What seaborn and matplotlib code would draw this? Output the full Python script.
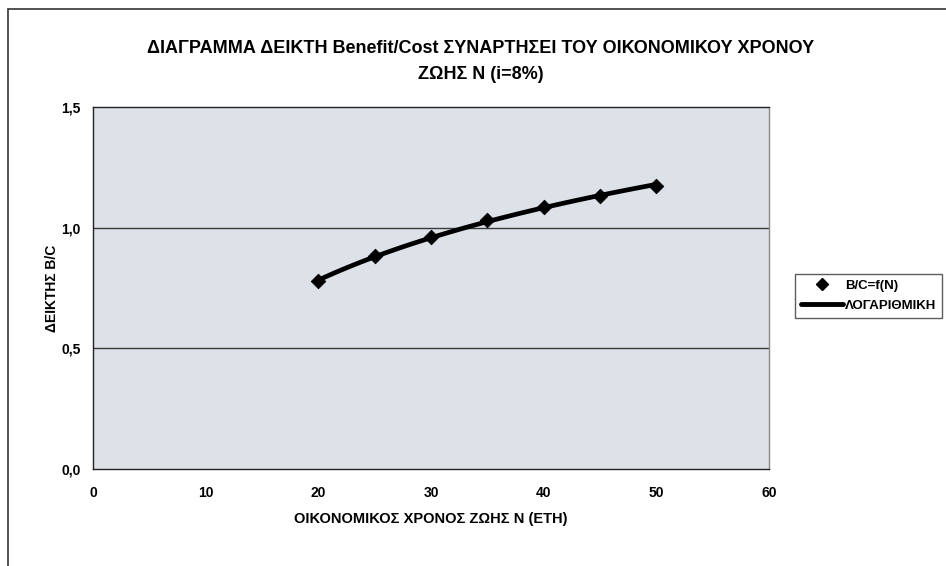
import matplotlib
matplotlib.use("Agg")
import matplotlib.pyplot as plt
import seaborn as sns
import pandas as pd
from matplotlib.lines import Line2D
from matplotlib.ticker import FuncFormatter

years = [20, 25, 30, 35, 40, 45, 50]
bc_ratio = [0.777, 0.881, 0.961, 1.030, 1.085, 1.132, 1.174]
x_ticks = [0, 10, 20, 30, 40, 50, 60]
y_ticks = [0.0, 0.5, 1.0, 1.5]

title = "ΔΙΑΓΡΑΜΜΑ ΔΕΙΚΤΗ Benefit/Cost ΣΥΝΑΡΤΗΣΕΙ ΤΟΥ ΟΙΚΟΝΟΜΙΚΟΥ ΧΡΟΝΟΥ\nΖΩΗΣ Ν (i=8%)"
xlabel = "ΟΙΚΟΝΟΜΙΚΟΣ ΧΡΟΝΟΣ ΖΩΗΣ Ν (ΕΤΗ)"
ylabel = "ΔΕΙΚΤΗΣ Β/C"
series_label = "B/C=f(N)"
trend_label = "ΛΟΓΑΡΙΘΜΙΚΗ"

df = pd.DataFrame({"N": years, "BC": bc_ratio})

sns.set_theme(style="white", rc={"text.color": "black", "axes.labelcolor": "black",
                                 "xtick.color": "black", "ytick.color": "black"})
plt.rcParams["font.family"] = ["Liberation Sans", "DejaVu Sans"]

fig = plt.figure(figsize=(9.46, 5.66), dpi=100)
ax = fig.add_axes([0.0983, 0.1714, 0.7146, 0.6396])
ax.set_facecolor("#dde2e9")

# logarithmic trendline
sns.regplot(data=df, x="N", y="BC", logx=True, ci=None, scatter=False, ax=ax,
            line_kws=dict(color="black", lw=3.4, zorder=3))
sns.scatterplot(data=df, x="N", y="BC", marker="D", s=55, color="black",
                edgecolor="black", ax=ax, zorder=4, legend=False)

ax.set_xlim(0, 60)
ax.set_ylim(0, 1.5)
ax.set_xticks(x_ticks)
ax.set_yticks(y_ticks)
ax.yaxis.set_major_formatter(FuncFormatter(lambda v, p: f"{v:.1f}".replace(".", ",")))
for v in y_ticks[1:-1]:
    ax.axhline(v, color="#3a3a3a", lw=1.0, zorder=1)
for s in ax.spines.values():
    s.set_color("#222222")
    s.set_linewidth(1.0)
ax.spines["right"].set_color("#888888")
ax.tick_params(axis="both", which="major", direction="out", length=4, width=1,
               color="#222222", labelcolor="black", labelsize=10)
for lab in ax.get_xticklabels() + ax.get_yticklabels():
    lab.set_fontweight("bold")
ax.tick_params(axis="y", pad=5)
ax.tick_params(axis="x", pad=8)
ax.set_xlabel(xlabel, fontsize=10.5, fontweight="bold", labelpad=9, color="black")
ax.set_ylabel(ylabel, fontsize=10, fontweight="bold", labelpad=1.5, color="black")

fig.text(0.508, 0.891, title, ha="center", va="center", fontsize=13,
         fontweight="bold", linespacing=1.7, color="black")

handles = [Line2D([], [], marker="D", color="black", ls="none", markersize=6),
           Line2D([], [], color="black", lw=3.5)]
leg = fig.legend(handles, [series_label, trend_label], loc="upper left",
                 bbox_to_anchor=(0.840, 0.516), frameon=True, fancybox=False,
                 prop=dict(size=9.5, weight="bold"), handlelength=3.2,
                 handletextpad=0.15, borderpad=0.45, labelspacing=0.55,
                 borderaxespad=0, labelcolor="black")
leg.get_frame().set_edgecolor("#333333")
leg.get_frame().set_linewidth(1.0)

# outer chart border
fig.patches.append(plt.Rectangle((0.0085, -0.05), 1.2, 1.034, transform=fig.transFigure,
                                 fill=False, edgecolor="#333333", lw=1.2))

fig.savefig("out.png", dpi=100, facecolor="white")
